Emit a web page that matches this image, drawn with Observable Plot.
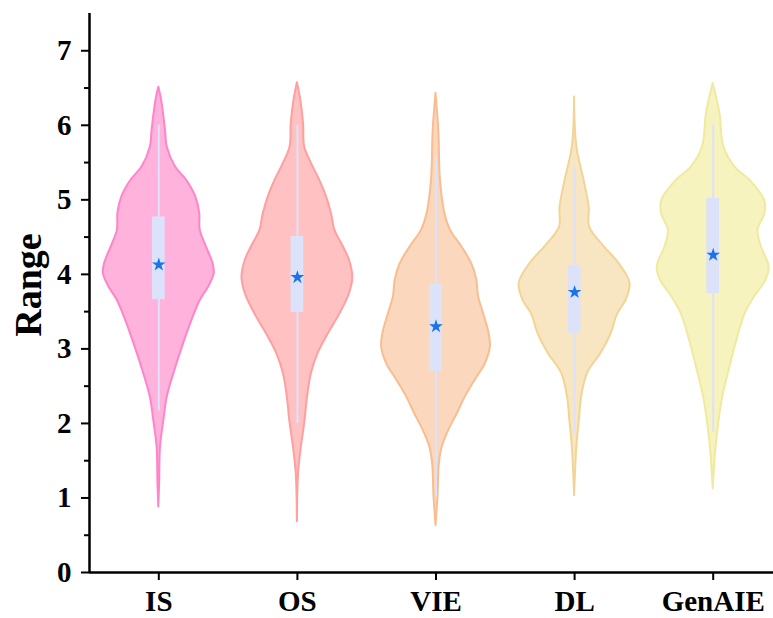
<!DOCTYPE html>
<html>
<head>
<meta charset="utf-8">
<script src="https://cdn.jsdelivr.net/npm/d3@7"></script>
<script src="https://cdn.jsdelivr.net/npm/@observablehq/plot@0.6"></script>
<style>
  html, body { margin: 0; padding: 0; background: #fff; }
</style>
</head>
<body>
<div id="chart"></div>
<script>
// ---- data ----
const categories = ["IS", "OS", "VIE", "DL", "GenAIE"];
const yTicks = [0, 1, 2, 3, 4, 5, 6, 7];
const yMinorTicks = [0.5, 1.5, 2.5, 3.5, 4.5, 5.5, 6.5];

// violin outlines: [value, relative density]
const densityIS = [[6.51,0],[6.34,0.05],[5.93,0.12],[5.71,0.15],[5.44,0.30],[5.26,0.50],[5.04,0.66],[4.82,0.73],[4.59,0.74],[4.37,0.85],[4.14,0.97],[4.01,0.99],[3.83,0.89],[3.65,0.74],[3.38,0.59],[3.02,0.42],[2.67,0.27],[2.35,0.15],[2.04,0.09],[1.68,0.03],[1.2,0.015],[0.88,0]];
const densityOS = [[6.57,0],[6.34,0.06],[6.02,0.11],[5.71,0.13],[5.49,0.25],[5.26,0.40],[5.04,0.52],[4.81,0.61],[4.59,0.67],[4.37,0.82],[4.19,0.93],[3.96,0.99],[3.74,0.93],[3.47,0.76],[3.20,0.55],[2.94,0.37],[2.67,0.25],[2.35,0.18],[2.00,0.13],[1.68,0.07],[1.32,0.02],[0.68,0]];
const densityVIE = [[6.43,0],[5.93,0.05],[5.26,0.08],[4.81,0.16],[4.59,0.26],[4.37,0.46],[4.14,0.64],[3.92,0.73],[3.70,0.76],[3.47,0.85],[3.20,0.95],[3.02,0.97],[2.80,0.88],[2.58,0.70],[2.35,0.52],[2.13,0.38],[1.91,0.23],[1.68,0.11],[1.46,0.06],[1.01,0.035],[0.63,0]];
const densityDL = [[6.38,0],[5.71,0.04],[5.26,0.17],[4.90,0.26],[4.63,0.27],[4.37,0.53],[4.14,0.80],[3.88,0.99],[3.65,0.92],[3.47,0.77],[3.20,0.65],[2.94,0.47],[2.67,0.23],[2.35,0.125],[2.04,0.085],[1.68,0.04],[1.03,0]];
const densityGenAIE = [[6.56,0],[6.16,0.12],[5.71,0.19],[5.44,0.39],[5.26,0.66],[4.99,0.92],[4.81,0.92],[4.59,0.80],[4.37,0.86],[4.10,1.0],[3.92,0.94],[3.70,0.74],[3.47,0.57],[3.11,0.42],[2.76,0.30],[2.35,0.17],[1.95,0.09],[1.59,0.04],[1.12,0]];

// box statistics
const q1Values = [3.66, 3.49, 2.70, 3.21, 3.74];
const q3Values = [4.77, 4.51, 3.87, 4.12, 5.02];
const whiskerLow = [2.17, 2.00, 1.01, 1.86, 1.88];
const whiskerHigh = [6.00, 6.00, 5.57, 5.44, 6.00];
const meanValues = [4.13, 3.96, 3.30, 3.76, 4.26];

// ---- styling ----
const fills = ["#ffb2dc", "#ffc1c1", "#fbd8bd", "#f8e6c3", "#f7f3bf"];
const strokes = ["#ff85c8", "#ff9f9f", "#f8bd90", "#f2d596", "#f0e9a0"];
const profiles = [densityIS, densityOS, densityVIE, densityDL, densityGenAIE];
const halfWidth = 0.404;   // max violin half-width in category units
const boxHalf = 0.046;
const FONT = "'Liberation Serif', 'Times New Roman', serif";

const stats = categories.map((c, i) => ({
  i, q1: q1Values[i], q3: q3Values[i], lo: whiskerLow[i], hi: whiskerHigh[i], mean: meanValues[i]
}));

const violinMarks = profiles.map((prof, i) => {
  const rows = prof.map(([v, d]) => ({i, v, d}));
  return Plot.areaX(rows, {
    y: "v",
    x1: r => r.i - r.d * halfWidth,
    x2: r => r.i + r.d * halfWidth,
    fill: fills[i],
    stroke: strokes[i],
    strokeWidth: 2,
    curve: "catmull-rom"
  });
});

const chart = Plot.plot({
  width: 773,
  height: 618,
  marginLeft: 89,
  marginRight: 0,
  marginTop: 13,
  marginBottom: 46,
  style: { fontFamily: FONT, fontWeight: "bold", fontSize: "29px", color: "#000", background: "#fff" },
  x: { domain: [-0.5, 4.5], range: [89, 782] },
  y: { domain: [0, 7.5] },
  marks: [
    ...violinMarks,
    Plot.ruleX(stats, { x: "i", y1: "lo", y2: "hi", stroke: "#dde2fb", strokeWidth: 2 }),
    Plot.rect(stats, { x1: d => d.i - boxHalf, x2: d => d.i + boxHalf, y1: "q1", y2: "q3", fill: "#dde2fb" }),
    Plot.dot(stats, { x: "i", y: "mean", symbol: "star", r: 4.3, fill: "#1a73e8", stroke: "none" }),
    Plot.axisY({ ticks: yTicks, tickSize: 8, tickPadding: 10, tickFormat: d => String(d), strokeWidth: 2, label: null, fontSize: 29, fontWeight: "bold" }),
    Plot.axisY({ ticks: yMinorTicks, tickSize: 5, tickFormat: () => "", strokeWidth: 2, label: null }),
    Plot.axisX({ ticks: [0, 1, 2, 3, 4], tickSize: 8, tickPadding: 10, tickFormat: i => categories[i], strokeWidth: 2, label: null, fontSize: 29, fontWeight: "bold" }),
    Plot.ruleX([-0.5], { strokeWidth: 2.5, stroke: "#000" }),
    Plot.ruleY([0], { strokeWidth: 2.5, stroke: "#000" }),
    Plot.text(["Range"], { frameAnchor: "left", textAnchor: "middle", dx: -61, dy: -8, rotate: -90, text: d => d, fontSize: 38, fontWeight: "bold" })
  ]
});
document.getElementById("chart").appendChild(chart);
</script>
</body>
</html>
